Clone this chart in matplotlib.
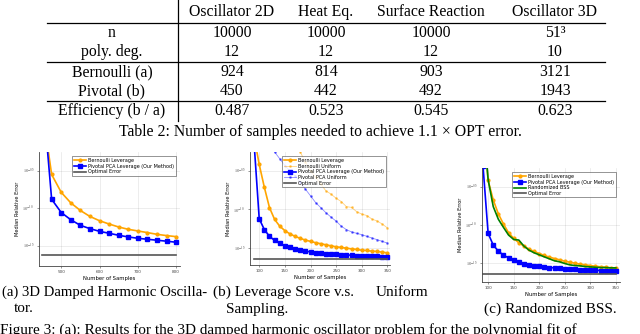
import matplotlib
matplotlib.use('Agg')
import matplotlib.pyplot as plt
import numpy as np
from matplotlib.lines import Line2D
from matplotlib.ticker import FixedLocator, NullLocator

plt.rcParams['font.family'] = ['Liberation Serif', 'DejaVu Serif']
plt.rcParams['mathtext.fontset'] = 'stix'

# ---------------- table data ----------------
datasets = ["Oscillator 2D", "Heat Eq.", "Surface Reaction", "Oscillator 3D"]
n_vals = ["10000", "10000", "10000", "51³"]
poly_deg = [12, 12, 12, 10]
bernoulli_samples = [924, 814, 903, 3121]
pivotal_samples = [450, 442, 492, 1943]
efficiency = [0.487, 0.523, 0.545, 0.623]

# ---------------- (a) data (log10 of median relative error) ----------------
x_a = [450, 475, 500, 525, 550, 575, 600, 625, 650, 675, 700, 725, 750, 775, 800]
bern_lev_a = [0.35, -0.549, -0.788, -0.929, -1.031, -1.111, -1.168, -1.212, -1.252,
              -1.283, -1.305, -1.327, -1.350, -1.367, -1.381]
piv_lev_a = [0.624, -0.881, -1.058, -1.155, -1.230, -1.274, -1.310, -1.336, -1.363,
             -1.385, -1.403, -1.416, -1.429, -1.442, -1.456]
opt_a = -1.628

# ---------------- (b) data ----------------
x_b = list(range(90, 351, 10))
bern_lev_b = [-0.065, -0.422, -0.717, -0.978, -1.130, -1.217, -1.274, -1.317, -1.348,
              -1.374, -1.396, -1.413, -1.430, -1.443, -1.457, -1.470, -1.483, -1.491,
              -1.500, -1.509, -1.517, -1.526, -1.530, -1.539, -1.543, -1.552, -1.561]
piv_lev_b = [-0.152, -1.122, -1.261, -1.348, -1.400, -1.439, -1.470, -1.491, -1.509,
             -1.526, -1.539, -1.548, -1.557, -1.565, -1.570, -1.574, -1.578, -1.583,
             -1.587, -1.591, -1.596, -1.596, -1.600, -1.604, -1.604, -1.609, -1.613]
x_b_unif_bern = list(range(150, 351, 10))
bern_unif_b = [0.130, -0.022, -0.152, -0.261, -0.391, -0.500, -0.587, -0.674, -0.761,
               -0.804, -0.857, -0.900, -0.965, -0.975, -1.030, -1.061, -1.080, -1.126,
               -1.150, -1.190, -1.239]
piv_unif_b = [0.304, 0.130, -0.022, -0.152, -0.261, -0.348, -0.435, -0.509, -0.565,
              -0.652, -0.739, -0.826, -0.913, -0.978, -1.043, -1.100, -1.152, -1.217,
              -1.261, -1.291, -1.309, -1.326, -1.348, -1.370, -1.391, -1.413, -1.435]
opt_b = -1.639

# ---------------- (c) data ----------------
x_c = list(range(90, 351, 10))
bern_lev_c = [0.395, -0.417, -0.671, -0.855, -0.987, -1.101, -1.175, -1.232, -1.276,
              -1.316, -1.346, -1.373, -1.399, -1.421, -1.439, -1.456, -1.474, -1.487,
              -1.500, -1.513, -1.522, -1.531, -1.539, -1.548, -1.553, -1.561, -1.566]
piv_lev_c = [-0.232, -1.110, -1.263, -1.342, -1.395, -1.430, -1.461, -1.487, -1.504,
             -1.518, -1.531, -1.539, -1.548, -1.557, -1.561, -1.566, -1.570, -1.575,
             -1.579, -1.583, -1.588, -1.592, -1.592, -1.596, -1.596, -1.601, -1.601]
bss_c = [0.382, -0.408, -0.759, -0.925, -1.031, -1.132, -1.189, -1.197, -1.276,
         -1.329, -1.364, -1.390, -1.417, -1.443, -1.469, -1.482, -1.504, -1.522,
         -1.531, -1.535, -1.544, -1.548, -1.553, -1.557, -1.557, -1.561, -1.561]
opt_c = -1.636

ytick_exps = [-0.5, -1.0, -1.5]

W, H = 640, 334
fig = plt.figure(figsize=(6.4, 3.34), dpi=100)


def fx(x):
    return x / W


def fy(y):
    return 1 - y / H


def hline(x0, x1, y, lw=0.9):
    fig.add_artist(Line2D([fx(x0), fx(x1)], [fy(y), fy(y)], transform=fig.transFigure,
                          color='black', lw=lw))


# ---------------- table ----------------
TFS = 11.3
col_x = [232, 326, 431, 555]
label_x = 112
row_y = {'head': 12, 'n': 33, 'deg': 52, 'bern': 72, 'piv': 91, 'eff': 111}
for cx, name in zip(col_x, datasets):
    fig.text(fx(cx), fy(row_y['head']), name, ha='center', va='center', fontsize=TFS)
rows = [('n', 'n', n_vals),
        ('deg', 'poly. deg.', [str(v) for v in poly_deg]),
        ('bern', 'Bernoulli (a)', [str(v) for v in bernoulli_samples]),
        ('piv', 'Pivotal (b)', [str(v) for v in pivotal_samples]),
        ('eff', 'Efficiency (b / a)', [f"{v:.3f}" for v in efficiency])]
for key, lab, vals in rows:
    fig.text(fx(label_x), fy(row_y[key]), lab, ha='center', va='center', fontsize=TFS)
    for cx, v in zip(col_x, vals):
        fig.text(fx(cx), fy(row_y[key]), v, ha='center', va='center', fontsize=TFS)
for yl in [23, 62, 101]:
    hline(47, 605, yl)
fig.add_artist(Line2D([fx(178), fx(178)], [fy(0), fy(121)], transform=fig.transFigure,
                      color='black', lw=0.9))
fig.text(0.5, fy(132), "Table 2: Number of samples needed to achieve 1.1 × OPT error.",
         ha='center', va='center', fontsize=TFS)

# ---------------- plots ----------------
ORANGE = '#FFA500'
BLUE = '#0000FF'
GRAY = '#555555'
GREEN = '#008000'
SANS = 'DejaVu Sans'


def style_ax(ax, xlim, ylim_exp, xticks):
    ax.set_yscale('log')
    ax.set_xlim(*xlim)
    ax.set_ylim(10 ** ylim_exp[0], 10 ** ylim_exp[1])
    ax.set_xticks(xticks)
    ax.set_xticklabels([str(t) for t in xticks], fontsize=3.0, family=SANS)
    ax.yaxis.set_major_locator(FixedLocator([10 ** e for e in ytick_exps]))
    ax.yaxis.set_minor_locator(NullLocator())
    ax.set_yticklabels([f"$10^{{{e}}}$" for e in ytick_exps], fontsize=3.2)
    ax.grid(True, color='black', alpha=0.1, lw=0.5)
    for s in ['top', 'right']:
        ax.spines[s].set_visible(False)
    for s in ['left', 'bottom']:
        ax.spines[s].set_color('#444444')
        ax.spines[s].set_linewidth(0.6)
    ax.tick_params(length=1.5, width=0.4, pad=1.5, colors='#444444')
    ax.set_xlabel("Number of Samples", fontsize=3.8, family=SANS, labelpad=1)
    ax.set_ylabel("Median Relative Error", fontsize=3.6, family=SANS, labelpad=1.5)


def leg(ax):
    lg = ax.legend(loc='upper right', fontsize=3.5, frameon=True, fancybox=False,
                   borderpad=0.3, labelspacing=0.15, handlelength=2.6, handletextpad=0.4,
                   borderaxespad=0.9, prop={'family': SANS, 'size': 3.5})
    lg.get_frame().set_edgecolor('#444444')
    lg.get_frame().set_linewidth(0.5)


def p10(v):
    return 10 ** np.asarray(v, dtype=float)


# (a)
ax_a = fig.add_axes([fx(39), fy(266), (180 - 39) / W, (266 - 152) / H])
ax_a.plot(x_a, p10(bern_lev_a), color=ORANGE, lw=1.2, marker='o', ms=2.0, label='Bernoulli Leverage')
ax_a.plot(x_a, p10(piv_lev_a), color=BLUE, lw=1.2, marker='s', ms=2.4,
          label='Pivotal PCA Leverage (Our Method)')
ax_a.plot([x_a[0], x_a[-1]], p10([opt_a, opt_a]), color=GRAY, lw=1.2, label='Optimal Error')
style_ax(ax_a, (442, 810), (-1.774, -0.248), [500, 600, 700, 800])
leg(ax_a)

# (b)
ax_b = fig.add_axes([fx(250), fy(265), (390 - 250) / W, (265 - 152) / H])
ax_b.plot(x_b, p10(bern_lev_b), color=ORANGE, lw=1.2, marker='o', ms=2.0, label='Bernoulli Leverage')
ax_b.plot(x_b_unif_bern, p10(bern_unif_b), color=ORANGE, alpha=0.5, lw=0.6, marker='o', ms=1.0,
          label='Bernoulli Uniform')
ax_b.plot(x_b, p10(piv_lev_b), color=BLUE, lw=1.2, marker='s', ms=2.4,
          label='Pivotal PCA Leverage (Our Method)')
ax_b.plot(x_b, p10(piv_unif_b), color=BLUE, alpha=0.45, lw=0.6, marker='o', ms=1.0,
          label='Pivotal PCA Uniform')
ax_b.plot([x_b[0], x_b[-1]], p10([opt_b, opt_b]), color=GRAY, lw=1.2, label='Optimal Error')
style_ax(ax_b, (82, 355), (-1.717, -0.261), [100, 150, 200, 250, 300, 350])
leg(ax_b)

# (c)
ax_c = fig.add_axes([fx(482), fy(282), (620 - 482) / W, (282 - 168) / H])
ax_c.plot(x_c, p10(bern_lev_c), color=ORANGE, lw=1.2, marker='o', ms=2.0, label='Bernoulli Leverage')
ax_c.plot(x_c, p10(piv_lev_c), color=BLUE, lw=1.2, marker='s', ms=2.4,
          label='Pivotal PCA Leverage (Our Method)')
ax_c.plot(x_c, p10(bss_c), color=GREEN, lw=1.2, label='Randomized BSS')
ax_c.plot([x_c[0], x_c[-1]], p10([opt_c, opt_c]), color=GRAY, lw=1.2, label='Optimal Error')
style_ax(ax_c, (88, 358), (-1.746, -0.254), [100, 150, 200, 250, 300, 350])
leg(ax_c)

# ---------------- captions ----------------
CFS = 11
fig.text(fx(2), fy(292), "(a) 3D Damped Harmonic Oscilla-", ha='left', va='center', fontsize=10.6)
fig.text(fx(14), fy(309), "tor.", ha='left', va='center', fontsize=CFS)
fig.text(fx(213), fy(292), "(b) Leverage Score v.s.", ha='left', va='center', fontsize=CFS)
fig.text(fx(428), fy(292), "Uniform", ha='right', va='center', fontsize=CFS)
fig.text(fx(226), fy(309), "Sampling.", ha='left', va='center', fontsize=CFS)
fig.text(fx(550), fy(309), "(c) Randomized BSS.", ha='center', va='center', fontsize=CFS)
fig.text(fx(0), fy(323), "Figure 3: (a): Results for the 3D damped harmonic oscillator problem for the polynomial fit of",
         ha='left', va='top', fontsize=CFS)

fig.savefig('out.png', dpi=100)
